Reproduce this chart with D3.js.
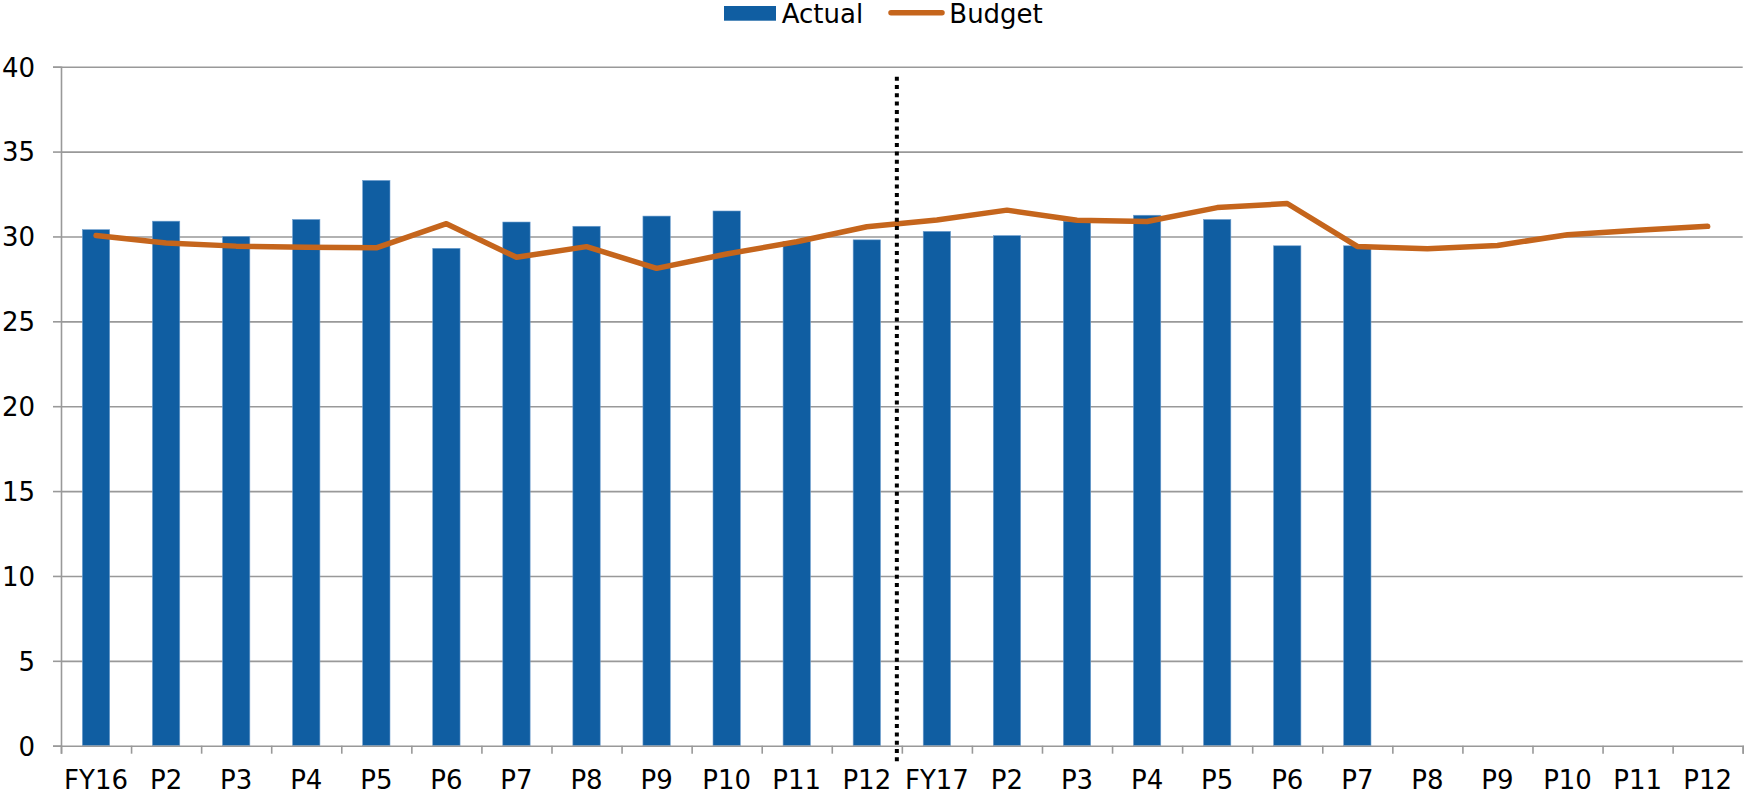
<!DOCTYPE html>
<html>
<head>
<meta charset="utf-8">
<script src="https://cdn.jsdelivr.net/npm/d3@7"></script>
<style>
  html, body { margin: 0; padding: 0; background: #fff; }
  svg { display: block; font-family: "DejaVu Sans", Verdana, sans-serif; }
</style>
</head>
<body>
<svg id="chart" width="1744" height="795"></svg>
<script>
// ---- data ----
const categories = ["FY16","P2","P3","P4","P5","P6","P7","P8","P9","P10","P11","P12",
                    "FY17","P2","P3","P4","P5","P6","P7","P8","P9","P10","P11","P12"];
const actual = [30.4, 30.9, 30.0, 31.0, 33.3, 29.3, 30.85, 30.6, 31.2, 31.5, 29.7, 29.8,
                30.3, 30.05, 30.9, 31.25, 31.0, 29.45, 29.45, null, null, null, null, null];
const budget = [30.05, 29.62, 29.43, 29.37, 29.33, 30.75, 28.77, 29.4, 28.12, 28.97, 29.69, 30.57,
                30.97, 31.55, 30.95, 30.88, 31.7, 31.94, 29.41, 29.27, 29.47, 30.1, 30.36, 30.6];
const yTicks = [0, 5, 10, 15, 20, 25, 30, 35, 40];
const seriesNames = ["Actual", "Budget"];
const dividerIndex = 12; // boundary between FY16 and FY17

(function () {
// ---- layout ----
const mLeft = 61, mRight = 1742.7, mTop = 66.7, mBottom = 745.7;
const barColor = "#105EA2", lineColor = "#C5651C", gridColor = "#999999";

const svg = d3.select("#chart");

const idx = d3.range(categories.length);
const xb = d3.scaleBand().domain(idx).range([mLeft, mRight]).paddingInner(0).paddingOuter(0);
const xl = d3.scaleLinear().domain([0, categories.length]).range([mLeft, mRight]);
const y = d3.scaleLinear().domain([0, 40]).range([mBottom, mTop]);
const barW = xb.bandwidth() * 0.39;

// gridlines
svg.append("g")
  .attr("transform", `translate(${mLeft},0)`)
  .call(d3.axisLeft(y).tickValues(yTicks.filter(d => d > 0)).tickSize(-(mRight - mLeft)).tickFormat(""))
  .call(g => g.select(".domain").remove())
  .call(g => g.selectAll("line").attr("stroke", gridColor).attr("stroke-width", 1.6));

// bars
svg.append("g").selectAll("rect")
  .data(idx.filter(i => actual[i] != null))
  .join("rect")
  .attr("x", i => xb(i) + xb.bandwidth() / 2 - barW / 2)
  .attr("width", barW)
  .attr("y", i => y(actual[i]))
  .attr("height", i => y(0) - y(actual[i]))
  .attr("fill", barColor)
  .attr("stroke", "#6f9fcf")
  .attr("stroke-width", 0.6);

// y axis
svg.append("g")
  .attr("transform", `translate(${mLeft},0)`)
  .call(d3.axisLeft(y).tickValues(yTicks).tickSize(8).tickPadding(18).tickFormat(d3.format("d")))
  .call(g => g.select(".domain").attr("stroke", gridColor).attr("stroke-width", 1.6))
  .call(g => g.selectAll("line").attr("stroke", gridColor).attr("stroke-width", 1.6))
  .call(g => g.selectAll("text").attr("font-size", 26).attr("fill", "#000")
              .attr("font-family", "DejaVu Sans, Verdana, sans-serif").attr("dy", "0.36em"));

// x axis ticks (at category boundaries)
svg.append("g")
  .attr("transform", `translate(0,${mBottom})`)
  .call(d3.axisBottom(xl).tickValues(d3.range(categories.length + 1)).tickSize(8).tickFormat(""))
  .call(g => g.select(".domain").attr("stroke", gridColor).attr("stroke-width", 1.6))
  .call(g => g.selectAll("line").attr("stroke", gridColor).attr("stroke-width", 1.6));

// x axis labels
svg.append("g")
  .attr("transform", `translate(0,${mBottom})`)
  .call(d3.axisBottom(xb).tickSize(0).tickFormat(i => categories[i]))
  .call(g => g.select(".domain").remove())
  .call(g => g.selectAll("text").attr("font-size", 26).attr("fill", "#000")
              .attr("font-family", "DejaVu Sans, Verdana, sans-serif")
              .attr("y", 43).attr("dy", 0));

// budget line
const line = d3.line()
  .x(i => xb(i) + xb.bandwidth() / 2)
  .y(i => y(budget[i]));
svg.append("path")
  .datum(idx)
  .attr("d", line)
  .attr("fill", "none")
  .attr("stroke", lineColor)
  .attr("stroke-width", 5.5)
  .attr("stroke-linejoin", "round")
  .attr("stroke-linecap", "round");

// dotted divider
const dx = xl(dividerIndex) - 5;
svg.append("line")
  .attr("x1", dx).attr("x2", dx)
  .attr("y1", 76.7).attr("y2", 762)
  .attr("stroke", "#000")
  .attr("stroke-width", 4)
  .attr("stroke-dasharray", "4,4.3");

// legend
const lg = svg.append("g");
lg.append("rect").attr("x", 724).attr("y", 6).attr("width", 52).attr("height", 14.7).attr("fill", barColor);
lg.append("text").attr("x", 781.7).attr("y", 23.3).attr("font-size", 26).text(seriesNames[0]);
lg.append("line").attr("x1", 891).attr("x2", 942).attr("y1", 12.7).attr("y2", 12.7)
  .attr("stroke", lineColor).attr("stroke-width", 5.5).attr("stroke-linecap", "round");
lg.append("text").attr("x", 949.3).attr("y", 23.3).attr("font-size", 26).text(seriesNames[1]);
})();
</script>
</body>
</html>
